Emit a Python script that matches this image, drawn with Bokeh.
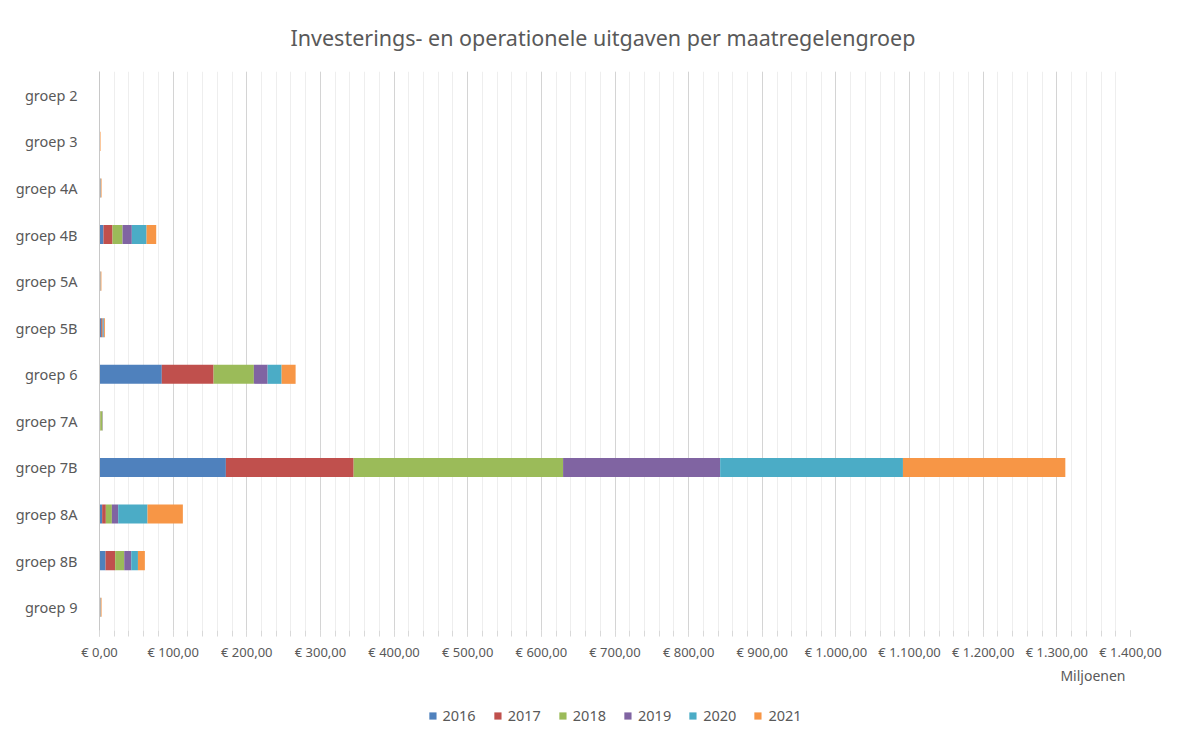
from bokeh.plotting import figure
from bokeh.models import FixedTicker, Legend, LegendItem, Title, ColumnDataSource, FactorRange
from bokeh.layouts import column
from bokeh.embed import file_html
from bokeh.resources import INLINE

groups = ["groep 2", "groep 3", "groep 4A", "groep 4B", "groep 5A", "groep 5B",
          "groep 6", "groep 7A", "groep 7B", "groep 8A", "groep 8B", "groep 9"]
years = ["2016", "2017", "2018", "2019", "2020", "2021"]
colors = ["#4F81BD", "#C0504D", "#9BBB59", "#8064A2", "#4BACC6", "#F79646"]

v2016 = [0.0, 0.1, 0.6, 5.4, 0.3, 2.0, 84.6, 0.5, 171.6, 3.6, 8.2, 0.5]
v2017 = [0.0, 0.1, 0.3, 12.3, 0.3, 1.2, 70.3, 0.6, 173.5, 5.0, 13.1, 0.3]
v2018 = [0.0, 0.1, 0.3, 13.6, 0.3, 1.0, 54.7, 2.5, 284.4, 8.2, 12.3, 0.3]
v2019 = [0.0, 0.1, 0.4, 12.6, 0.4, 1.3, 18.7, 0.4, 213.3, 8.6, 9.5, 0.4]
v2020 = [0.0, 0.2, 0.3, 20.0, 0.3, 0.8, 19.0, 0.4, 248.2, 39.8, 9.1, 0.3]
v2021 = [0.0, 0.8, 0.9, 13.1, 1.0, 1.2, 19.0, 0.3, 220.5, 48.0, 9.4, 1.0]

tick_values = [0, 100, 200, 300, 400, 500, 600, 700, 800, 900, 1000, 1100, 1200, 1300, 1400]
tick_labels = ["€ 0,00", "€ 100,00", "€ 200,00", "€ 300,00", "€ 400,00", "€ 500,00",
               "€ 600,00", "€ 700,00", "€ 800,00", "€ 900,00", "€ 1.000,00",
               "€ 1.100,00", "€ 1.200,00", "€ 1.300,00", "€ 1.400,00"]
minor_values = list(range(0, 1401, 20))

title_text = "Investerings- en operationele uitgaven per maatregelengroep"
unit_text = "Miljoenen"

FONT = "Noto Sans"
GREY = "#595959"

data = dict(groups=groups)
for y, vals in zip(years, [v2016, v2017, v2018, v2019, v2020, v2021]):
    data[y] = vals
source = ColumnDataSource(data)

p = figure(width=1200, height=695, output_backend="svg", toolbar_location=None,
           y_range=list(reversed(groups)), x_range=(0, 1400),
           min_border_left=99, min_border_right=70, min_border_top=70, min_border_bottom=65)
p.outline_line_color = None
p.background_fill_color = "white"
p.border_fill_color = "white"

p.title.text = title_text
p.title.align = "left"
p.title.offset = 191
p.title.text_font = FONT
p.title.text_font_size = "21.5px"
p.title.text_font_style = "normal"
p.title.text_color = GREY
p.title.standoff = 40

renderers = p.hbar_stack(years, y="groups", height=0.41, color=colors, source=source,
                         line_color=None)

p.xaxis.ticker = FixedTicker(ticks=tick_values, minor_ticks=minor_values)
p.xaxis.major_label_overrides = {v: l for v, l in zip(tick_values, tick_labels)}
p.xaxis.axis_line_color = None
p.xaxis.major_tick_line_color = "#D0D0D0"
p.xaxis.minor_tick_line_color = "#D9D9D9"
p.xaxis.major_tick_out = 6
p.xaxis.major_tick_in = 0
p.xaxis.minor_tick_out = 6
p.xaxis.minor_tick_in = 0
p.xaxis.major_label_standoff = 6
p.xaxis.major_label_text_font = FONT
p.xaxis.major_label_text_font_size = "13px"
p.xaxis.major_label_text_color = GREY

p.yaxis.axis_line_color = "#C8C8C8"
p.yaxis.major_tick_line_color = None
p.yaxis.minor_tick_line_color = None
p.yaxis.major_label_standoff = 16
p.yaxis.major_label_text_font = FONT
p.yaxis.major_label_text_font_size = "14.5px"
p.yaxis.major_label_text_color = GREY

p.xgrid.grid_line_color = "#D4D4D4"
p.xgrid.minor_grid_line_color = "#EEEEEE"
p.ygrid.grid_line_color = None

# "Miljoenen" display-unit label under the axis, right aligned
p.add_layout(Title(text=unit_text, align="right", offset=5, standoff=0,
                   text_font=FONT, text_font_size="14px", text_font_style="normal",
                   text_color=GREY), "below")

# legend strip underneath the chart (its own copies of the bars stay hidden)
lg = figure(width=1200, height=40, output_backend="svg", toolbar_location=None,
            x_axis_location=None, y_axis_location=None,
            x_range=p.x_range, y_range=FactorRange(factors=list(reversed(groups))),
            min_border_left=2, min_border_right=14, min_border_top=0, min_border_bottom=0)
lg.outline_line_color = None
lg.xgrid.visible = False
lg.ygrid.visible = False
lg_renderers = lg.hbar_stack(years, y="groups", height=0.41, color=colors, source=source,
                             line_color=None)
for r in lg_renderers:
    r.visible = False
items = [LegendItem(label=y, renderers=[r]) for y, r in zip(years, lg_renderers)]
legend = Legend(items=items, orientation="horizontal", location="center",
                label_text_font=FONT, label_text_font_size="14.5px", label_text_color=GREY,
                glyph_width=9, glyph_height=9, label_standoff=6, spacing=17,
                border_line_color=None, background_fill_alpha=0, padding=0, margin=0,
                label_height=14, inactive_fill_alpha=0)
lg.add_layout(legend, "center")

layout = column(p, lg, spacing=0)
open("out.html", "w").write(file_html(layout, INLINE))
